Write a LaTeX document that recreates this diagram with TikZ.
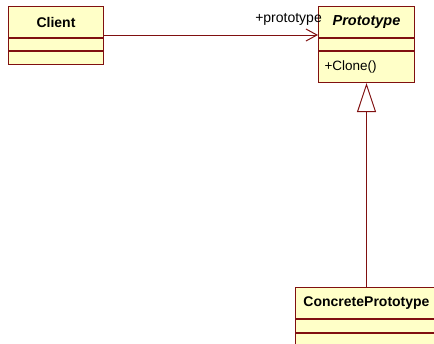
\documentclass[tikz,border=0pt]{standalone}
\usepackage{fontspec}
\setmainfont{Liberation Sans}
\usetikzlibrary{arrows.meta}

\definecolor{umlborder}{RGB}{128,16,16}
\definecolor{umlfill}{RGB}{255,255,200}

\tikzset{
  x=1pt, y=-1pt,
  part/.style={draw=umlborder, fill=umlfill, line width=1pt, inner sep=0pt,
               anchor=north west, minimum width=#1},
  header/.style={part=#1, minimum height=31pt, font=\fontsize{14}{16}\selectfont\bfseries},
  slot/.style={part=#1, minimum height=12pt},
  assoc/.style={draw=umlborder, line width=1pt,
                -{Straight Barb[length=11pt, width=12pt, line width=1pt]}},
  generalize/.style={draw=umlborder, line width=1pt,
                -{Triangle[open, length=29pt, width=19pt, line width=1pt, fill=white]}},
  lbl/.style={font=\fontsize{14}{16}\selectfont, inner sep=0pt}
}

\begin{document}
\begin{tikzpicture}
\useasboundingbox (0,0) rectangle (434,343);

% Client
\node[header=95pt] (clientH) at (8,6) {Client};
\node[slot=95pt] (clientA) at (clientH.south west) {};
\node[slot=95pt, minimum height=13pt] (clientO) at (clientA.south west) {};

% Prototype (abstract)
\node[header=96pt, font=\fontsize{14.5}{16}\selectfont\bfseries\itshape] (protoH) at (318,6) {Prototype};
\node[slot=96pt] (protoA) at (protoH.south west) {};
\node[slot=96pt, minimum height=31pt, text width=84pt, align=left,
      inner xsep=6pt, font=\fontsize{13.5}{16}\selectfont] (protoO) at (protoA.south west) {+Clone()};

% ConcretePrototype
\node[header=142pt] (concH) at (295,287) {ConcretePrototype};
\node[slot=142pt, minimum height=13pt] (concA) at (concH.south west) {};
\node[slot=142pt, minimum height=20pt] (concO) at (concA.south west) {};

% association Client -> Prototype
\draw[assoc] ([yshift=3pt]clientH.south east) -- ([yshift=3pt]protoH.south west);
\node[lbl, anchor=base east] (rolename) at (322,22) {+prototype};

% generalization ConcretePrototype -> Prototype
\draw[generalize] (concH.north -| protoO.south) -- (protoO.south);
\end{tikzpicture}
\end{document}
